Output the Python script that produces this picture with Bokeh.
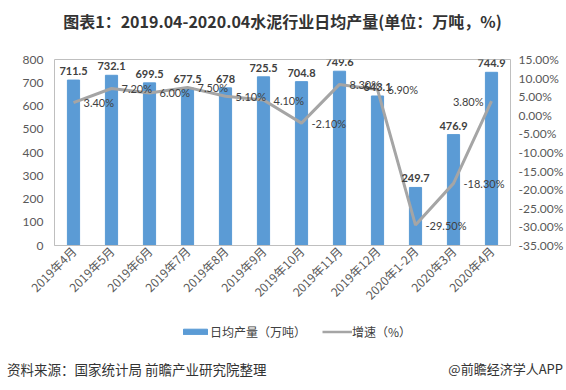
from bokeh.plotting import figure
from bokeh.layouts import column
from bokeh.models import (Range1d, LinearAxis, SingleIntervalTicker, PrintfTickFormatter,
                          ColumnDataSource, LabelSet, Label, Legend, LegendItem, FactorRange, Div)
from bokeh.core.properties import value
from bokeh.embed import file_html
from bokeh.resources import INLINE
import math

categories = ["2019年4月", "2019年5月", "2019年6月", "2019年7月", "2019年8月", "2019年9月",
              "2019年10月", "2019年11月", "2019年12月", "2020年1-2月", "2020年3月", "2020年4月"]
output = [711.5, 732.1, 699.5, 677.5, 678, 725.5, 704.8, 749.6, 643.1, 249.7, 476.9, 744.9]
output_labels = ["711.5", "732.1", "699.5", "677.5", "678", "725.5", "704.8", "749.6",
                 "643.1", "249.7", "476.9", "744.9"]
growth = [3.4, 7.2, 6.0, 7.5, 5.1, 4.1, -2.1, 8.3, 6.9, -29.5, -18.3, 3.8]
growth_labels = ["%.2f%%" % g for g in growth]

title_text = "图表1：2019.04-2020.04水泥行业日均产量(单位：万吨，%)"
legend_labels = ["日均产量（万吨）", "增速（%）"]
source_text = "资料来源：国家统计局 前瞻产业研究院整理"
brand_text = "@前瞻经济学人APP"

CJK = "Noto Sans CJK SC"
NUM = "Lato"
BAR_COLOR = "#5B9BD5"
LINE_COLOR = "#A5A5A5"
W = 566
FRAME_L = 54

src = ColumnDataSource(dict(cat=categories, out=output, outl=output_labels, g=growth, gl=growth_labels))
# growth labels: all but the last go right of their point; the last goes left so it stays inside
src_g_right = ColumnDataSource(dict(cat=categories[:-1], g=growth[:-1], gl=growth_labels[:-1]))
src_g_left = ColumnDataSource(dict(cat=categories[-1:], g=growth[-1:], gl=growth_labels[-1:]))


def strip_fig(h, **kw):
    f = figure(width=W, height=h, output_backend="svg", toolbar_location=None, min_border=0,
               min_border_left=0, min_border_right=0, min_border_top=0, min_border_bottom=0,
               x_axis_type=None, y_axis_type=None, **kw)
    f.xgrid.grid_line_color = None
    f.ygrid.grid_line_color = None
    f.outline_line_color = None
    return f


# ---------- header ----------
HEAD_H = 40
head = strip_fig(HEAD_H, x_range=Range1d(0, 1), y_range=Range1d(0, 1))
head.add_layout(Label(x=282 - FRAME_L, y=HEAD_H - 20, x_units="screen", y_units="screen",
                      text=title_text, text_align="center", text_baseline="middle",
                      text_font=CJK, text_font_size="16px", text_font_style="bold",
                      text_color="#333333"))

# ---------- main chart ----------
MAIN_H = 278
p = figure(width=W, height=MAIN_H, x_range=FactorRange(*categories), y_range=Range1d(0, 800),
           output_backend="svg", toolbar_location=None,
           min_border_left=FRAME_L, min_border_right=56, min_border_top=19, min_border_bottom=73)
p.extra_y_ranges = {"pct": Range1d(-35, 15)}
p.xgrid.grid_line_color = None
p.ygrid.grid_line_color = None
p.outline_line_color = "#BFBFBF"
p.x_range.range_padding = 0

p.vbar(x="cat", top="out", width=0.32, source=src, color=BAR_COLOR)
p.line(x="cat", y="g", source=src, y_range_name="pct", line_color=LINE_COLOR, line_width=3)

p.add_layout(LabelSet(x="cat", y="out", text="outl", source=src, text_align="center",
                      text_baseline="bottom", y_offset=5, text_font=value(NUM),
                      text_font_size="11px", text_font_style="bold", text_color="#404040"))
p.add_layout(LabelSet(x="cat", y="g", text="gl", source=src_g_right, y_range_name="pct",
                      text_align="left", text_baseline="middle", x_offset=10,
                      text_font=value(NUM), text_font_size="11px", text_color="#404040"))
p.add_layout(LabelSet(x="cat", y="g", text="gl", source=src_g_left, y_range_name="pct",
                      text_align="right", text_baseline="middle", x_offset=-8,
                      text_font=value(NUM), text_font_size="11px", text_color="#404040"))

ya = p.yaxis[0]
ya.ticker = SingleIntervalTicker(interval=100)
ya.axis_line_color = None
ya.major_tick_line_color = None
ya.minor_tick_line_color = None
ya.major_label_text_font = NUM
ya.major_label_text_font_size = "12px"
ya.major_label_text_color = "#595959"
ya.major_label_standoff = 5

ra = LinearAxis(y_range_name="pct", ticker=SingleIntervalTicker(interval=5),
                formatter=PrintfTickFormatter(format="%.2f%%"))
ra.axis_line_color = None
ra.major_tick_line_color = None
ra.minor_tick_line_color = None
ra.major_label_text_font = NUM
ra.major_label_text_font_size = "12px"
ra.major_label_text_color = "#595959"
ra.major_label_standoff = 2
p.add_layout(ra, "right")

xa = p.xaxis[0]
xa.axis_line_color = "#BFBFBF"
xa.major_tick_line_color = None
xa.minor_tick_line_color = None
xa.major_tick_out = 0
xa.major_tick_in = 0
xa.major_label_orientation = math.pi / 4
xa.major_label_text_font = CJK
xa.major_label_text_font_size = "12px"
xa.major_label_text_color = "#595959"
xa.major_label_standoff = 3

# ---------- legend strip (same series, hidden; only the key is shown) ----------
LEG_H = 32
leg = strip_fig(LEG_H, x_range=FactorRange(*categories), y_range=Range1d(-2000, -1999))
lg_bar = leg.vbar(x="cat", top="out", width=0.32, source=src, color=BAR_COLOR, visible=False)
lg_line = leg.line(x="cat", y="g", source=src, line_color=LINE_COLOR, line_width=2.5, visible=False)
legend = Legend(items=[LegendItem(label=legend_labels[0], renderers=[lg_bar]),
                       LegendItem(label=legend_labels[1], renderers=[lg_line])],
                location=(180 - FRAME_L, 10), orientation="horizontal", glyph_width=30,
                glyph_height=7, label_height=7, padding=0, margin=0, spacing=16,
                label_standoff=0, label_text_font=CJK, label_text_font_size="12px",
                label_text_color="#404040", border_line_color=None, background_fill_alpha=0,
                inactive_fill_alpha=0)
leg.add_layout(legend, "center")

# ---------- footer ----------
foot = Div(text=('<div style="display:flex;justify-content:space-between;align-items:flex-start;'
                 'width:566px;height:40px;line-height:18px;box-sizing:border-box;'
                 'padding:10px 3px 0 7px;color:#333333;font-family:\'Noto Sans CJK SC\';">'
                 '<span style="font-size:13.5px;">' + source_text + '</span>'
                 '<span style="font-size:13px;">' + brand_text + '</span></div>'),
           width=W, height=40, margin=(0, 0, 0, 0))

layout = column(head, p, leg, foot, spacing=0)
open("out.html", "w").write(file_html(layout, INLINE))
